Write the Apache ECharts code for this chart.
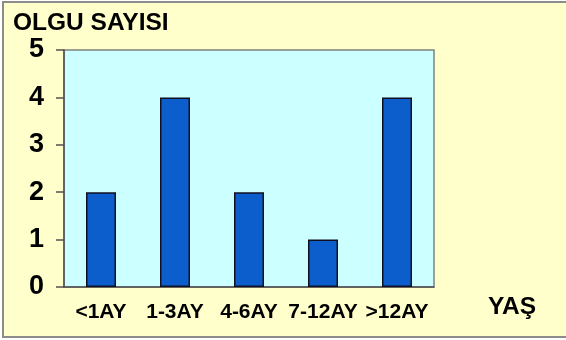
<!DOCTYPE html>
<html>
<head>
<meta charset="utf-8">
<script src="https://cdn.jsdelivr.net/npm/echarts@6/dist/echarts.min.js"></script>
<style>
  html, body { margin: 0; padding: 0; background: #ffffff; }
  #frame { position: absolute; left: 2px; top: 1px; width: 600px; height: 333px;
           border: 2px solid #8c8c8c; background: #FFFFCC; }
  #chart { position: absolute; left: 0; top: 0; width: 566px; height: 340px; }
</style>
</head>
<body>
<div id="frame"></div>
<div id="chart"></div>
<script>
// Age groups and number of cases in each
const ageGroups = ['<1AY', '1-3AY', '4-6AY', '7-12AY', '>12AY'];
const caseCounts = [2, 4, 2, 1, 4];
const yTicks = { min: 0, max: 5, step: 1 };

const FONT = '"Liberation Sans", Arial, sans-serif';

const chart = echarts.init(document.getElementById('chart'), null, { renderer: 'canvas' });
chart.setOption({
  backgroundColor: 'transparent',
  animation: false,
  title: {
    text: 'OLGU SAYISI',
    left: 8, top: 6,
    textStyle: { fontFamily: FONT, fontWeight: 'bold', fontSize: 24.5, color: '#000' }
  },
  grid: {
    left: 64, top: 50, width: 370, height: 237,
    show: true, backgroundColor: '#CCFFFF', borderColor: '#808080', borderWidth: 1.5
  },
  xAxis: {
    type: 'category',
    data: ageGroups,
    name: 'YAŞ',
    nameLocation: 'end',
    nameGap: 54,
    nameTextStyle: { fontFamily: FONT, fontWeight: 'bold', fontSize: 24.5, color: '#000',
                     verticalAlign: 'top', padding: [8, 0, 0, 0] },
    axisLine: { lineStyle: { color: '#505050', width: 1.5 } },
    axisTick: { show: false },
    axisLabel: { interval: 0, margin: 15, fontFamily: FONT, fontWeight: 'bold', fontSize: 21, color: '#000' }
  },
  yAxis: {
    type: 'value',
    min: yTicks.min, max: yTicks.max, interval: yTicks.step,
    splitLine: { show: false },
    axisLine: { show: true, lineStyle: { color: '#505050', width: 1.5 } },
    axisTick: { show: true, length: 8, lineStyle: { color: '#505050', width: 1.5 } },
    axisLabel: { margin: 20, fontFamily: FONT, fontWeight: 'bold', fontSize: 27, color: '#000' }
  },
  series: [{
    type: 'bar',
    data: caseCounts,
    barWidth: 30,
    itemStyle: { color: '#0B5ECB', borderColor: '#101020', borderWidth: 1.5 }
  }]
});
</script>
</body>
</html>
